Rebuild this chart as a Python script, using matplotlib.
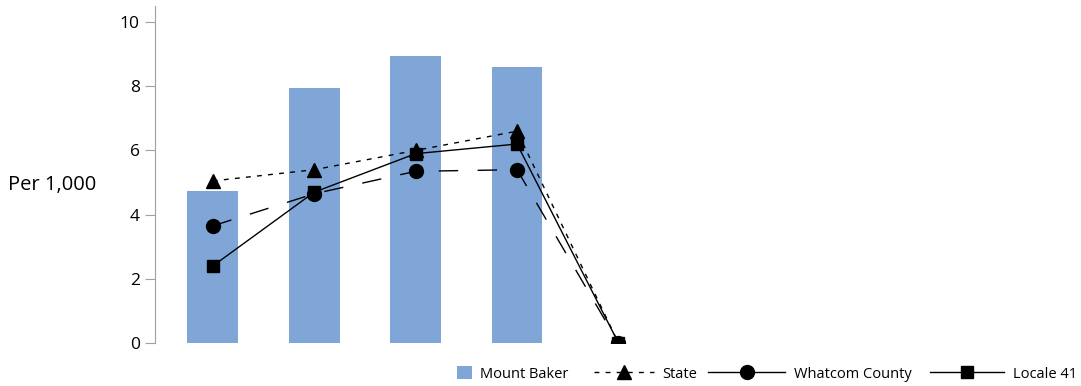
import matplotlib
matplotlib.use("Agg")
import matplotlib.pyplot as plt
from matplotlib.patches import Patch
from matplotlib.lines import Line2D
import numpy as np

plt.rcParams['font.family'] = ['Open Sans', 'DejaVu Sans']

# data
categories = ["1", "2", "3", "4", "5"]
mount_baker = [4.75, 7.95, 8.95, 8.6, 0.0]
state = [5.05, 5.4, 6.0, 6.6, 0.0]
whatcom = [3.65, 4.65, 5.35, 5.4, 0.0]
locale41 = [2.4, 4.7, 5.9, 6.2, 0.0]

bar_color = "#7FA6D7"
state_ls = (0, (3.5, 4.5))
whatcom_ls = (0, (14, 14))

fig = plt.figure(figsize=(10.81, 3.86), dpi=100)
ax = fig.add_axes([0.1434, 0.1114, 0.485, 0.873])

x = np.arange(len(categories))
ax.bar(x, mount_baker, width=0.5, color=bar_color, zorder=1)

ax.plot(x, state, color="black", lw=1, linestyle=state_ls,
        marker="^", markersize=10, zorder=3)
ax.plot(x, whatcom, color="black", lw=1, linestyle=whatcom_ls,
        marker="o", markersize=10, zorder=3)
ax.plot(x, locale41, color="black", lw=1, linestyle="-",
        marker="s", markersize=9, zorder=3)

ax.set_xlim(-0.57, 4.6)
ax.set_ylim(0, 10.5)
ax.set_yticks([0, 2, 4, 6, 8, 10])
ax.set_xticks([])
for s in ["top", "right", "bottom"]:
    ax.spines[s].set_visible(False)
ax.spines["left"].set_color("#A0A0A0")
ax.tick_params(axis="y", length=7, color="#A0A0A0", labelsize=12.5, pad=4)

fig.text(0.007, 0.52, "Per 1,000", fontsize=14.5, va="center", ha="left")

# legend entries placed one by one so each handle can have its own length
entries = [
    (Patch(facecolor=bar_color, edgecolor="none"), "Mount Baker", 457, 1.0),
    (Line2D([], [], color="black", lw=1, linestyle=state_ls, marker="^", markersize=10),
     "State", 594, 4.1),
    (Line2D([], [], color="black", lw=1, linestyle="-", marker="o", markersize=10),
     "Whatcom County", 708, 5.3),
    (Line2D([], [], color="black", lw=1, linestyle="-", marker="s", markersize=9),
     "Locale 41", 930, 5.1),
]
for h, lab, px, hl in entries:
    leg = fig.legend([h], [lab], loc="center left", bbox_to_anchor=(px / 1081, 0.031),
                     frameon=False, fontsize=10.5, handlelength=hl, handleheight=1.0,
                     borderpad=0, borderaxespad=0, handletextpad=0.6)

fig.savefig("out.png", dpi=100)
